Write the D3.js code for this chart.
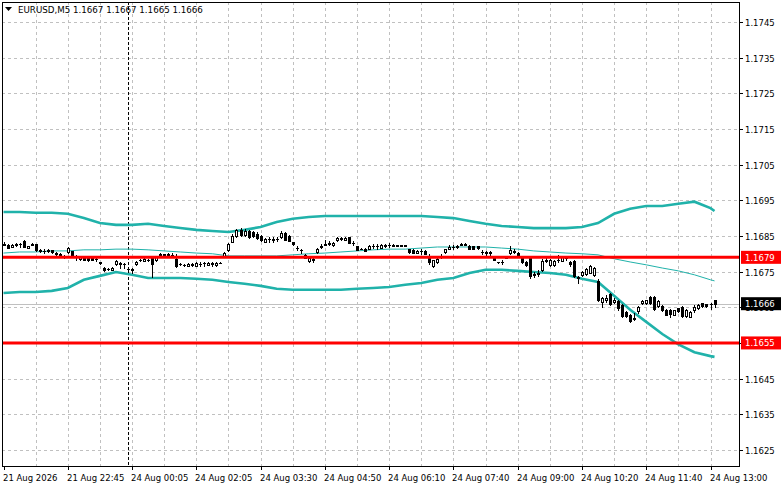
<!DOCTYPE html>
<html lang="en">
<head>
<meta charset="UTF-8">
<title>EURUSD,M5</title>
<style>
    body { margin: 0; background: #fff; }
    svg text { font-family: "DejaVu Sans", sans-serif; font-size: 8.5px; fill: #000; }
    svg text.title { font-size: 8.7px; }
</style>
</head>
<body>
<svg id="chart" width="781" height="489"></svg>
<script src="https://d3js.org/d3.v7.min.js"></script>
<script>
// ---- data ----
const symbol = "EURUSD,M5";

const opens = [
    1.16825,1.16825,1.16819,1.16825,1.16828,1.16836,1.16816,1.16825,1.16828,1.16811,1.16808,1.16808,1.16811,1.16802,1.16800,1.16791,
    1.16805,1.16808,1.16791,1.16786,1.16791,1.16788,1.16788,1.16786,1.16777,1.16760,1.16758,1.16755,1.16772,1.16774,1.16772,1.16758,
    1.16758,1.16772,1.16783,1.16780,1.16783,1.16791,1.16783,1.16800,1.16800,1.16800,1.16797,1.16786,1.16772,1.16769,1.16766,1.16769,
    1.16766,1.16772,1.16774,1.16769,1.16774,1.16769,1.16774,1.16794,1.16811,1.16833,1.16850,1.16867,1.16853,1.16864,1.16861,1.16856,
    1.16850,1.16833,1.16841,1.16841,1.16841,1.16847,1.16858,1.16850,1.16833,1.16816,1.16811,1.16797,1.16780,1.16786,1.16805,1.16819,
    1.16825,1.16828,1.16825,1.16839,1.16841,1.16839,1.16847,1.16830,1.16822,1.16813,1.16813,1.16813,1.16822,1.16822,1.16816,1.16822,
    1.16825,1.16822,1.16822,1.16822,1.16822,1.16813,1.16811,1.16802,1.16808,1.16808,1.16791,1.16766,1.16777,1.16791,1.16805,1.16813,
    1.16819,1.16819,1.16825,1.16825,1.16822,1.16822,1.16822,1.16805,1.16802,1.16805,1.16794,1.16777,1.16777,1.16788,1.16802,1.16808,
    1.16802,1.16788,1.16777,1.16788,1.16741,1.16746,1.16755,1.16780,1.16769,1.16769,1.16783,1.16780,1.16788,1.16777,1.16780,1.16735,
    1.16741,1.16744,1.16746,1.16741,1.16724,1.16665,1.16671,1.16688,1.16665,1.16668,1.16657,1.16637,1.16629,1.16618,1.16640,1.16662,
    1.16662,1.16679,1.16679,1.16654,1.16654,1.16643,1.16643,1.16629,1.16648,1.16651,1.16626,1.16623,1.16643,1.16648,1.16662,1.16660,
    1.16660,1.16670
];
const highs = [
    1.16833,1.16828,1.16828,1.16830,1.16830,1.16839,1.16822,1.16830,1.16828,1.16813,1.16813,1.16813,1.16811,1.16805,1.16802,1.16797,
    1.16819,1.16808,1.16797,1.16794,1.16791,1.16791,1.16791,1.16788,1.16777,1.16763,1.16760,1.16763,1.16783,1.16777,1.16774,1.16760,
    1.16760,1.16780,1.16786,1.16788,1.16786,1.16794,1.16794,1.16802,1.16800,1.16802,1.16802,1.16800,1.16774,1.16772,1.16774,1.16774,
    1.16777,1.16777,1.16777,1.16777,1.16777,1.16777,1.16777,1.16805,1.16830,1.16856,1.16870,1.16872,1.16870,1.16867,1.16864,1.16861,
    1.16853,1.16844,1.16847,1.16847,1.16847,1.16864,1.16861,1.16853,1.16833,1.16822,1.16813,1.16800,1.16791,1.16788,1.16816,1.16828,
    1.16839,1.16836,1.16833,1.16847,1.16847,1.16847,1.16847,1.16836,1.16822,1.16816,1.16816,1.16825,1.16828,1.16828,1.16828,1.16828,
    1.16830,1.16828,1.16825,1.16825,1.16825,1.16813,1.16813,1.16811,1.16813,1.16811,1.16800,1.16783,1.16788,1.16800,1.16813,1.16825,
    1.16825,1.16825,1.16830,1.16830,1.16825,1.16822,1.16822,1.16811,1.16808,1.16808,1.16794,1.16777,1.16783,1.16794,1.16822,1.16813,
    1.16805,1.16791,1.16780,1.16791,1.16749,1.16755,1.16786,1.16788,1.16786,1.16783,1.16797,1.16794,1.16794,1.16780,1.16783,1.16738,
    1.16752,1.16760,1.16769,1.16763,1.16730,1.16679,1.16685,1.16690,1.16676,1.16671,1.16660,1.16640,1.16632,1.16634,1.16654,1.16671,
    1.16671,1.16682,1.16682,1.16671,1.16657,1.16646,1.16646,1.16643,1.16648,1.16654,1.16646,1.16640,1.16657,1.16660,1.16662,1.16660,
    1.16662,1.16670
];
const lows = [
    1.16825,1.16816,1.16819,1.16822,1.16819,1.16819,1.16816,1.16825,1.16808,1.16805,1.16802,1.16805,1.16802,1.16794,1.16794,1.16788,
    1.16802,1.16794,1.16783,1.16783,1.16783,1.16780,1.16783,1.16780,1.16772,1.16752,1.16755,1.16755,1.16769,1.16760,1.16760,1.16749,
    1.16746,1.16769,1.16780,1.16780,1.16780,1.16735,1.16780,1.16791,1.16791,1.16794,1.16791,1.16763,1.16769,1.16766,1.16766,1.16766,
    1.16766,1.16766,1.16766,1.16769,1.16766,1.16766,1.16774,1.16794,1.16808,1.16833,1.16847,1.16850,1.16850,1.16844,1.16847,1.16841,
    1.16836,1.16833,1.16833,1.16833,1.16836,1.16844,1.16839,1.16836,1.16825,1.16811,1.16802,1.16788,1.16777,1.16777,1.16802,1.16816,
    1.16825,1.16825,1.16822,1.16836,1.16839,1.16839,1.16830,1.16825,1.16811,1.16813,1.16808,1.16813,1.16816,1.16813,1.16816,1.16819,
    1.16819,1.16822,1.16822,1.16822,1.16822,1.16802,1.16802,1.16802,1.16800,1.16800,1.16772,1.16763,1.16774,1.16788,1.16802,1.16813,
    1.16813,1.16816,1.16825,1.16825,1.16813,1.16813,1.16813,1.16800,1.16797,1.16797,1.16783,1.16774,1.16772,1.16788,1.16800,1.16802,
    1.16791,1.16774,1.16766,1.16732,1.16735,1.16738,1.16752,1.16777,1.16766,1.16766,1.16777,1.16780,1.16783,1.16766,1.16735,1.16718,
    1.16738,1.16741,1.16746,1.16738,1.16668,1.16651,1.16665,1.16657,1.16662,1.16643,1.16623,1.16623,1.16609,1.16615,1.16634,1.16660,
    1.16660,1.16660,1.16643,1.16651,1.16640,1.16629,1.16623,1.16629,1.16637,1.16623,1.16623,1.16623,1.16637,1.16646,1.16651,1.16651,
    1.16646,1.16650
];
const closes = [
    1.16828,1.16816,1.16825,1.16828,1.16828,1.16819,1.16822,1.16828,1.16811,1.16808,1.16808,1.16811,1.16805,1.16800,1.16797,1.16794,
    1.16816,1.16797,1.16791,1.16791,1.16783,1.16783,1.16783,1.16786,1.16774,1.16755,1.16758,1.16760,1.16780,1.16772,1.16772,1.16758,
    1.16755,1.16777,1.16783,1.16786,1.16783,1.16772,1.16791,1.16794,1.16794,1.16794,1.16794,1.16766,1.16772,1.16769,1.16772,1.16772,
    1.16774,1.16772,1.16774,1.16774,1.16772,1.16774,1.16774,1.16802,1.16828,1.16850,1.16867,1.16853,1.16864,1.16847,1.16850,1.16844,
    1.16839,1.16841,1.16841,1.16839,1.16841,1.16858,1.16839,1.16836,1.16828,1.16816,1.16811,1.16788,1.16788,1.16783,1.16813,1.16822,
    1.16828,1.16830,1.16830,1.16844,1.16844,1.16844,1.16830,1.16830,1.16811,1.16813,1.16808,1.16822,1.16822,1.16822,1.16825,1.16825,
    1.16825,1.16825,1.16825,1.16825,1.16825,1.16805,1.16802,1.16808,1.16808,1.16800,1.16777,1.16783,1.16786,1.16794,1.16813,1.16819,
    1.16819,1.16822,1.16828,1.16828,1.16813,1.16813,1.16816,1.16805,1.16805,1.16802,1.16783,1.16777,1.16777,1.16791,1.16811,1.16805,
    1.16794,1.16777,1.16769,1.16738,1.16744,1.16744,1.16780,1.16783,1.16783,1.16780,1.16783,1.16791,1.16788,1.16772,1.16738,1.16732,
    1.16749,1.16758,1.16766,1.16760,1.16671,1.16676,1.16676,1.16660,1.16671,1.16648,1.16626,1.16626,1.16612,1.16620,1.16651,1.16668,
    1.16671,1.16662,1.16646,1.16668,1.16643,1.16629,1.16632,1.16643,1.16640,1.16626,1.16643,1.16637,1.16651,1.16657,1.16654,1.16654,
    1.16660,1.16660
];

// bollinger bands, sampled every 4th bar
const bandBars = [0,4,8,12,16,20,24,28,32,36,40,44,48,52,56,60,64,68,72,76,80,84,88,92,96,100,
    104,108,112,116,120,124,128,132,136,140,144,148,152,156,160,164,168,172,176,177];
const bandUpper = [1.16917,1.16917,1.16915,1.16915,1.16912,1.16900,1.16886,1.16881,1.16881,1.16884,1.16878,1.16872,1.16867,
    1.16864,1.16861,1.16867,1.16875,1.16889,1.16898,1.16903,1.16906,1.16906,1.16906,1.16906,1.16906,1.16906,1.16906,1.16903,
    1.16900,1.16892,1.16884,1.16878,1.16875,1.16872,1.16872,1.16872,1.16875,1.16886,1.16912,1.16926,1.16934,1.16934,1.16940,
    1.16946,1.16928,1.16920];
const bandMiddle = [1.16802,1.16805,1.16805,1.16808,1.16808,1.16811,1.16811,1.16813,1.16813,1.16811,1.16808,1.16805,1.16802,
    1.16800,1.16794,1.16794,1.16794,1.16794,1.16797,1.16800,1.16802,1.16805,1.16808,1.16811,1.16813,1.16813,1.16816,1.16819,
    1.16819,1.16819,1.16819,1.16816,1.16813,1.16808,1.16805,1.16802,1.16800,1.16797,1.16786,1.16777,1.16769,1.16760,1.16752,
    1.16741,1.16727,1.16724];
const bandLower = [1.16690,1.16693,1.16693,1.16696,1.16704,1.16727,1.16738,1.16749,1.16741,1.16732,1.16732,1.16732,1.16730,
    1.16727,1.16721,1.16716,1.16710,1.16702,1.16699,1.16699,1.16699,1.16699,1.16702,1.16704,1.16707,1.16713,1.16718,1.16727,
    1.16732,1.16746,1.16755,1.16755,1.16752,1.16749,1.16746,1.16741,1.16730,1.16721,1.16682,1.16643,1.16609,1.16575,1.16546,
    1.16524,1.16513,1.16511];

const levels = [1.1679, 1.1655];
const yTicks = [1.1745,1.1735,1.1725,1.1715,1.1705,1.1695,1.1685,1.1675,1.1665,1.1655,1.1645,1.1635,1.1625];
const timeLabels = ["21 Aug 2026","21 Aug 22:45","24 Aug 00:05","24 Aug 02:05","24 Aug 03:30","24 Aug 04:50",
    "24 Aug 06:10","24 Aug 07:40","24 Aug 09:00","24 Aug 10:20","24 Aug 11:40","24 Aug 13:00"];
const timeLabelBars = [0,16,32,48,64,80,96,112,128,144,160,176];
const daySeparatorBar = 32;

// ---- layout ----
const plotL = 2, plotR = 739, plotT = 2, plotB = 466;
const svg = d3.select("#chart");

const x = d3.scaleLinear().domain([0, 176]).range([3.5, 710.5]);
const y = d3.scaleLinear().domain([1.16205, 1.17503]).range([466, 3]);
const px = v => Math.round(x(v));
const py = v => Math.round(y(v));

svg.append("rect").attr("width", 781).attr("height", 489).attr("fill", "#fff");

// grid
const grid = svg.append("g").attr("stroke", "#c0c0c0").attr("stroke-dasharray", "3,3").attr("shape-rendering", "crispEdges");
grid.selectAll("line.h").data(yTicks).join("line")
    .attr("x1", plotL).attr("x2", plotR)
    .attr("y1", d => py(d) + 0.5).attr("y2", d => py(d) + 0.5);
grid.selectAll("line.v").data(d3.range(8, 177, 8)).join("line")
    .attr("x1", d => px(d) + 0.5).attr("x2", d => px(d) + 0.5)
    .attr("y1", plotT).attr("y2", plotB);

// day separator
svg.append("line")
    .attr("x1", px(daySeparatorBar) - 3.5).attr("x2", px(daySeparatorBar) - 3.5)
    .attr("y1", plotT).attr("y2", plotB)
    .attr("stroke", "#000").attr("stroke-dasharray", "3,2").attr("shape-rendering", "crispEdges");

// current price line
const last = closes.length - 1;
svg.append("line")
    .attr("x1", plotL).attr("x2", plotR)
    .attr("y1", py(closes[last]) + 0.5).attr("y2", py(closes[last]) + 0.5)
    .attr("stroke", "#c0c0c0").attr("shape-rendering", "crispEdges");

// bands
const bandLine = arr => d3.line().x((d, i) => x(bandBars[i])).y(d => y(d))(arr);
svg.append("path").attr("d", bandLine(bandUpper)).attr("fill", "none").attr("stroke", "#20b2aa").attr("stroke-width", 2.6);
svg.append("path").attr("d", bandLine(bandLower)).attr("fill", "none").attr("stroke", "#20b2aa").attr("stroke-width", 2.6);
svg.append("path").attr("d", bandLine(bandMiddle)).attr("fill", "none").attr("stroke", "#20b2aa").attr("stroke-width", 1);

// candles
const candles = svg.append("g").attr("shape-rendering", "crispEdges");
opens.forEach((o, i) => {
    const c = closes[i];
    const cx = px(i);
    candles.append("line")
        .attr("x1", cx + 0.5).attr("x2", cx + 0.5)
        .attr("y1", py(highs[i])).attr("y2", py(lows[i]) + 1)
        .attr("stroke", "#000");
    const top = py(Math.max(o, c)), bot = py(Math.min(o, c));
    if (bot - top < 1) {
        candles.append("line")
            .attr("x1", cx - 1).attr("x2", cx + 2)
            .attr("y1", top + 0.5).attr("y2", top + 0.5)
            .attr("stroke", "#000");
    } else {
        candles.append("rect")
            .attr("x", cx - 0.5).attr("width", 2)
            .attr("y", top + 0.5).attr("height", bot - top)
            .attr("fill", c > o ? "#fff" : "#000")
            .attr("stroke", "#000");
    }
});

// level lines
svg.selectAll("line.level").data(levels).join("line")
    .attr("x1", plotL).attr("x2", plotR)
    .attr("y1", d => y(d)).attr("y2", d => y(d))
    .attr("stroke", "#ff0000").attr("stroke-width", 3);

// frame
svg.append("rect")
    .attr("x", plotL + 0.5).attr("y", plotT + 0.5)
    .attr("width", plotR - plotL).attr("height", plotB - plotT)
    .attr("fill", "none").attr("stroke", "#000").attr("shape-rendering", "crispEdges");

// price axis
const yAxis = svg.append("g").attr("shape-rendering", "crispEdges");
yAxis.selectAll("line").data(yTicks).join("line")
    .attr("x1", plotR).attr("x2", plotR + 4)
    .attr("y1", d => py(d) + 0.5).attr("y2", d => py(d) + 0.5)
    .attr("stroke", "#000");
yAxis.selectAll("text").data(yTicks).join("text")
    .attr("x", 745).attr("y", d => py(d) + 3.5)
    .text(d => d.toFixed(4));

// time axis
const xAxis = svg.append("g").attr("shape-rendering", "crispEdges");
xAxis.selectAll("line").data(timeLabelBars).join("line")
    .attr("x1", d => px(d) + 0.5).attr("x2", d => px(d) + 0.5)
    .attr("y1", plotB).attr("y2", plotB + 4)
    .attr("stroke", "#000");
xAxis.selectAll("text").data(timeLabels).join("text")
    .attr("x", (d, i) => px(timeLabelBars[i]) - 1).attr("y", 481)
    .text(d => d);

// price boxes on the axis
function priceBox(v, fill) {
    const cy = y(v);
    svg.append("rect").attr("x", 741).attr("y", cy - 6.5).attr("width", 40).attr("height", 13).attr("fill", fill);
    svg.append("text").attr("x", 745).attr("y", cy + 3.5).style("fill", "#fff").text(v.toFixed(4));
}
levels.forEach(v => priceBox(v, "#ff0000"));
priceBox(closes[last], "#000");

// header
svg.append("path").attr("d", "M5,7 L12,7 L8.5,11 Z").attr("fill", "#000");
svg.append("text").attr("class", "title").attr("x", 18).attr("y", 13)
    .text(symbol + "  " + [opens[last], highs[last], lows[last], closes[last]].map(v => v.toFixed(4)).join(" "));
</script>
</body>
</html>
